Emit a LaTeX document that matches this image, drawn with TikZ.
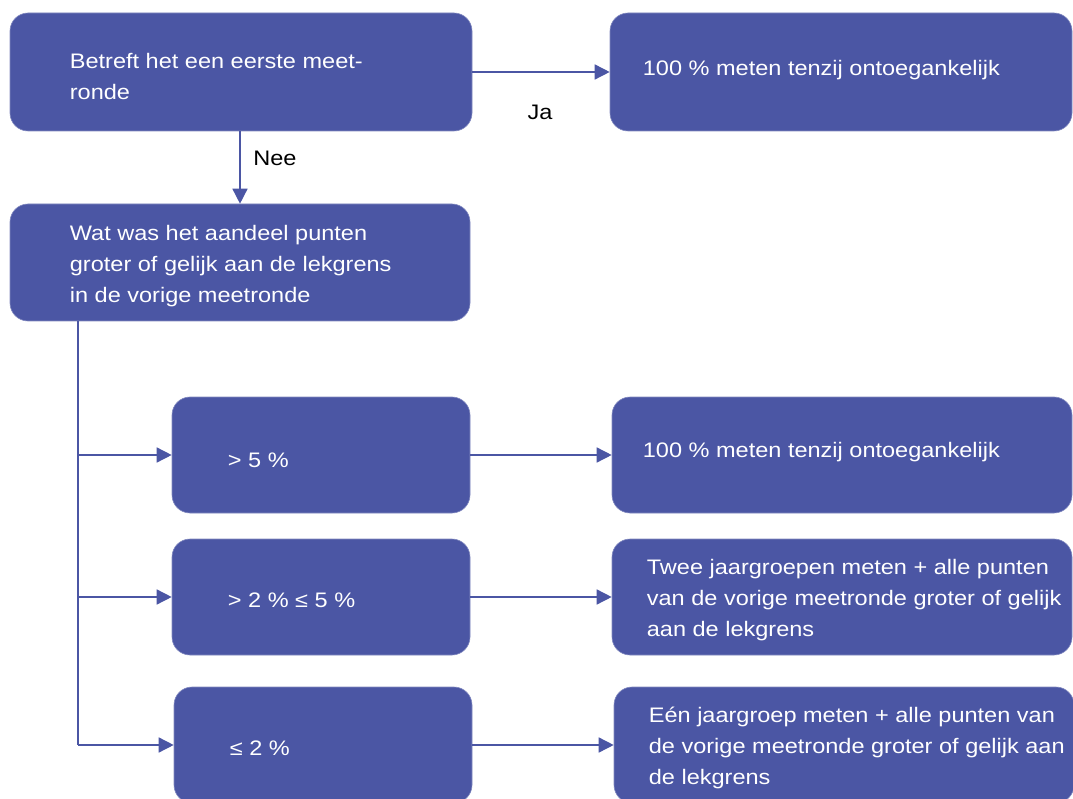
\documentclass[tikz,border=0pt]{standalone}
\usepackage{fontspec}
\setmainfont{Liberation Sans}[FakeStretch=1.12]
\usetikzlibrary{arrows.meta,calc}
\definecolor{boxblue}{HTML}{4B56A4}
\tikzset{
  box/.style={fill=boxblue, draw=boxblue!70!white, line width=0.6pt, rounded corners=18pt, inner sep=0pt},
  boxtext/.style={anchor=west, align=left, text=white, inner sep=0pt, font=\fontsize{21}{31}\selectfont},
  lbl/.style={text=black, inner sep=0pt, font=\fontsize{21}{31}\selectfont},
  conn/.style={draw=boxblue, line width=1.5pt, -{Triangle[length=15pt,width=15pt]}},
  plain/.style={draw=boxblue, line width=1.5pt}
}
\begin{document}
\begin{tikzpicture}[x=1pt,y=-1pt]
\useasboundingbox (0,0) rectangle (1073,799);
% boxes
\node[box, minimum width=462pt, minimum height=118pt] (A) at (241,72) {};
\node[box, minimum width=462pt, minimum height=118pt] (B) at (841,72) {};
\node[box, minimum width=460pt, minimum height=117pt] (C) at (240,262.5) {};
\node[box, minimum width=298pt, minimum height=116pt] (D) at (321,455) {};
\node[box, minimum width=460pt, minimum height=116pt] (E) at (842,455) {};
\node[box, minimum width=298pt, minimum height=116pt] (F) at (321,597) {};
\node[box, minimum width=460pt, minimum height=116pt] (G) at (842,597) {};
\node[box, minimum width=298pt, minimum height=116pt] (H) at (323,745) {};
\node[box, minimum width=460pt, minimum height=116pt] (I) at (844,745) {};
% texts
\node[boxtext] (tA) at ($(A.west)+(60,4)$) {Betreft het een eerste meet-\\ronde};
\node[boxtext] (tB) at ($(B.west)+(33,-2)$) {100 \% meten tenzij ontoegankelijk};
\node[boxtext] (tC) at ($(C.west)+(60,4)$) {Wat was het aandeel punten\\groter of gelijk aan de lekgrens\\in de vorige meetronde};
\node[boxtext] (tD) at ($(D.west)+(56,5)$) {> 5 \%};
\node[boxtext] (tE) at ($(E.west)+(31,-3)$) {100 \% meten tenzij ontoegankelijk};
\node[boxtext] (tF) at ($(F.west)+(56,3)$) {> 2 \% ≤ 5 \%};
\node[boxtext] (tG) at ($(G.west)+(35,3)$) {Twee jaargroepen meten + alle punten\\van de vorige meetronde groter of gelijk\\aan de lekgrens};
\node[boxtext] (tH) at ($(H.west)+(56,3)$) {≤ 2 \%};
\node[boxtext] (tI) at ($(I.west)+(35,3)$) {Eén jaargroep meten + alle punten van\\de vorige meetronde groter of gelijk aan\\de lekgrens};
% labels
\node[lbl] (ja) at (540,112) {Ja};
\node[lbl] (nee) at (275,158) {Nee};
% connectors
\draw[conn] (A.east) -- (B.west);
\draw[conn] (A.south -| C.north) -- (C.north);
\coordinate (tap) at (78,321);
\draw[plain] (tap) -- (tap |- H.west);
\draw[conn] (tap |- D.west) -- (D.west);
\draw[conn] (tap |- F.west) -- (F.west);
\draw[conn] (tap |- H.west) -- (H.west);
\draw[conn] (D.east) -- (E.west);
\draw[conn] (F.east) -- (G.west);
\draw[conn] (H.east) -- (I.west);
\end{tikzpicture}
\end{document}
